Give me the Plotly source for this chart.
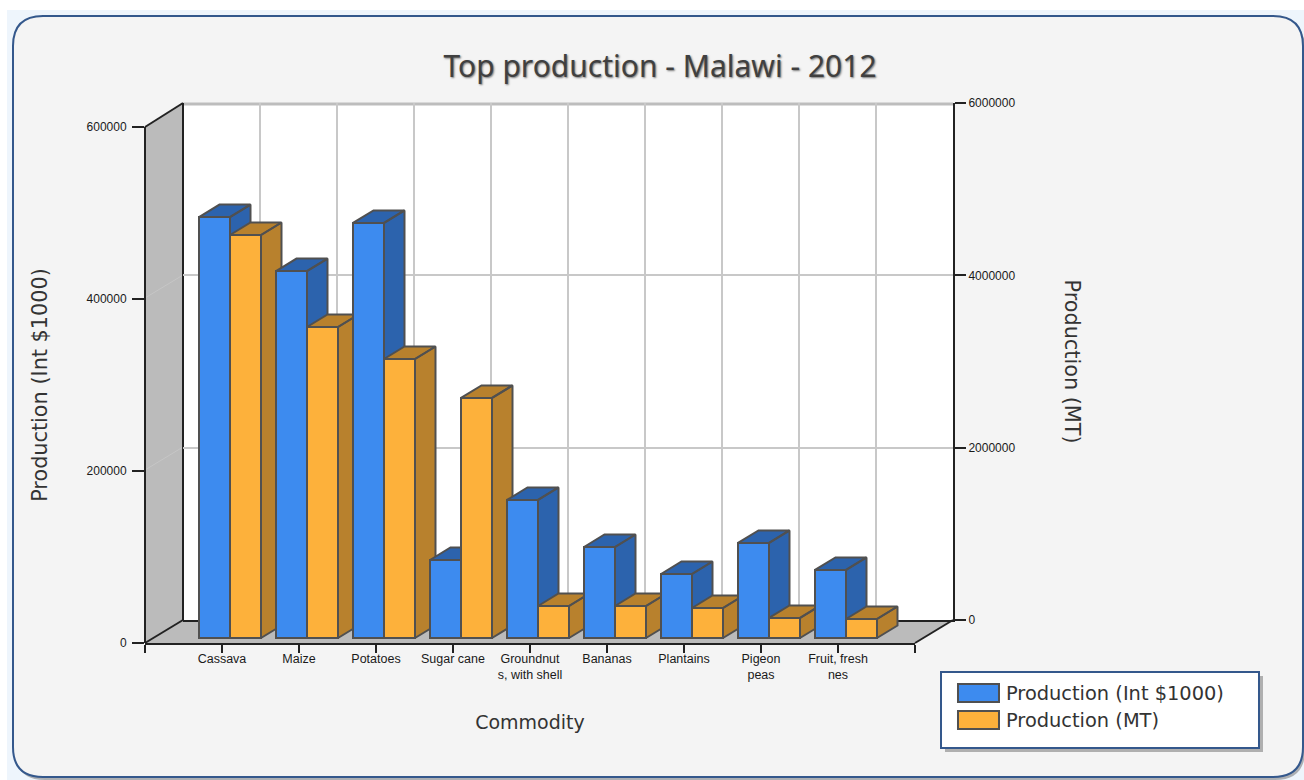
import plotly.graph_objects as go

# ---- data ----
categories = ["Cassava", "Maize", "Potatoes", "Sugar cane", "Groundnut<br>s, with shell",
              "Bananas", "Plantains", "Pigeon<br>peas", "Fruit, fresh<br>nes"]
production_int = [489500, 426700, 482600, 90700, 160500, 105800, 74400, 110500, 79100]
production_mt = [4686000, 3616000, 3244000, 2791000, 372000, 372000, 349000, 233000, 221000]
left_ticks = [0, 200000, 400000, 600000]
right_ticks = [0, 2000000, 4000000, 6000000]
series_names = ["Production (Int $1000)", "Production (MT)"]

# ---- layout constants (pixels) ----
W, H = 1304, 780
FL, FR, FT, FB = 145, 915, 127, 643      # front plane
BL, BR, BT, BB = 183, 953, 103, 620      # back wall
SLOT = (FR - FL) / 10
UNIT = 600000 / (FB - FT)                # left-axis units per pixel
BAR_W, LIFT_PX, OFF_PX = 31 / SLOT, 5, -23 / SLOT
DX, DY = 20.5 / SLOT, 12.5 * UNIT
LIFT = LIFT_PX * UNIT

BLUE, BLUE_D = "#3d8bef", "#2c63ad"
ORANGE, ORANGE_D = "#fdb13b", "#b8812d"
EDGE = "#505050"
BLACK = "#222222"
X_TICK_FONT = dict(family="Liberation Sans", size=12.5, color="#1a1a1a")
Y_TICK_FONT = dict(family="Liberation Sans", size=12, color="#1a1a1a")
LEGEND_FONT = dict(family="DejaVu Sans", size=19.4, color="#333333")
X_TITLE_FONT = dict(family="DejaVu Sans", size=19, color="#333333")
Y_TITLE_FONT = dict(family="DejaVu Sans", size=20.8, color="#333333")


def px(x):
    return x / W


def py(y):
    return 1 - y / H


def poly(points, fill=None, line=None, width=1, layer="below"):
    path = "M " + " L ".join(f"{px(x):.5f},{py(y):.5f}" for x, y in points) + " Z"
    return dict(type="path", xref="paper", yref="paper", path=path, fillcolor=fill or "rgba(0,0,0,0)",
                line=dict(color=line or "rgba(0,0,0,0)", width=width), layer=layer)


def seg(x0, y0, x1, y1, color=BLACK, width=2, layer="below"):
    return dict(type="line", xref="paper", yref="paper", x0=px(x0), y0=py(y0), x1=px(x1), y1=py(y1),
                line=dict(color=color, width=width), layer=layer)


def rounded(x0, y0, x1, y1, r, fill, line, width):
    def a(x, y):
        return f"{px(x):.5f},{py(y):.5f}"
    path = (f"M {a(x0 + r, y0)} L {a(x1 - r, y0)} Q {a(x1, y0)} {a(x1, y0 + r)} "
            f"L {a(x1, y1 - r)} Q {a(x1, y1)} {a(x1 - r, y1)} L {a(x0 + r, y1)} "
            f"Q {a(x0, y1)} {a(x0, y1 - r)} L {a(x0, y0 + r)} Q {a(x0, y0)} {a(x0 + r, y0)} Z")
    return dict(type="path", xref="paper", yref="paper", path=path, fillcolor=fill,
                line=dict(color=line, width=width), layer="below")


fig = go.Figure()
xs = list(range(1, len(categories) + 1))

# invisible carrier so the back-wall axes and their grid are drawn
fig.add_trace(go.Scatter(x=xs[:1], y=right_ticks[:1], xaxis="x", yaxis="y", mode="markers",
                         marker=dict(opacity=0), hoverinfo="skip", showlegend=False))

# side and top faces, painted left to right
for i, x in enumerate(xs):
    for k, (val, col) in enumerate(((production_int[i], BLUE_D), (production_mt[i] / 10, ORANGE_D))):
        L = x + OFF_PX + k * BAR_W
        R = L + BAR_W
        T = LIFT + val
        B = LIFT
        fx = [R, R + DX, R + DX, R, R, None, L, L + DX, R + DX, R, L]
        fy = [B, B + DY, T + DY, T, B, None, T, T + DY, T + DY, T, T]
        fig.add_trace(go.Scatter(x=fx, y=fy, xaxis="x2", yaxis="y2", mode="lines", fill="toself",
                                 fillcolor=col, line=dict(color=EDGE, width=2),
                                 hoverinfo="skip", showlegend=False))

# front faces
fig.add_trace(go.Bar(x=xs, y=production_int, base=LIFT, name=series_names[0], width=BAR_W, offset=OFF_PX,
                     marker=dict(color=BLUE, line=dict(color=EDGE, width=2)),
                     xaxis="x2", yaxis="y3", showlegend=False))
fig.add_trace(go.Bar(x=xs, y=production_mt, base=LIFT * 10, name=series_names[1], width=BAR_W,
                     offset=OFF_PX + BAR_W,
                     marker=dict(color=ORANGE, line=dict(color=EDGE, width=2)),
                     xaxis="x2", yaxis="y4", showlegend=False))

shapes = [
    poly([(7, 10), (W, 10), (W, H), (7, H)], fill="#eef5fc"),
    rounded(15, 19, 1305, 780, 30, "rgba(90,90,90,0.45)", "rgba(0,0,0,0)", 0),
    rounded(13, 16, 1303, 777, 30, "#f4f4f4", "#34588c", 2),
    poly([(BL, BT), (BR, BT), (BR, BB), (BL, BB)], fill="#ffffff"),
    seg(BL, 104, BR, 104, "#bdbdbd", 3),
    poly([(FL, FT), (BL, BT), (BL, BB), (FL, FB)], fill="#bbbbbb"),
    poly([(FL, FB), (BL, BB), (BR, BB), (FR, FB)], fill="#bbbbbb"),
    seg(FL, 470, BL, 447, "#c6c6c6", 1),
    seg(FL, 298, BL, 275, "#c6c6c6", 1),
    seg(FL, FT, FL, FB),
    seg(BL, BT, BL, BB),
    seg(FL, FT, BL, BT),
    seg(FL, FB, BL, BB),
    seg(FR, FB, BR, BB),
    # legend box
    poly([(945, 676), (1263, 676), (1263, 752), (945, 752)], fill="rgba(90,90,90,0.45)"),
    poly([(941, 672), (1259, 672), (1259, 748), (941, 748)], fill="#ffffff", line="#34588c", width=2),
    poly([(958, 684), (999, 684), (999, 702), (958, 702)], fill=BLUE, line=EDGE, width=2),
    poly([(958, 711), (999, 711), (999, 729), (958, 729)], fill=ORANGE, line=EDGE, width=2),
]

annotations = [
    dict(text=series_names[0], x=px(1004), y=py(693), xref="paper", yref="paper", xanchor="left",
         yanchor="middle", showarrow=False, font=LEGEND_FONT),
    dict(text=series_names[1], x=px(1004), y=py(720), xref="paper", yref="paper", xanchor="left",
         yanchor="middle", showarrow=False, font=LEGEND_FONT),
    dict(text="Production (MT)", x=px(1072), y=py(361.5), xref="paper", yref="paper", xanchor="center",
         yanchor="middle", textangle=90, showarrow=False, font=Y_TITLE_FONT),
]

fig.update_layout(
    width=W, height=H, autosize=False,
    margin=dict(l=0, r=0, t=0, b=0, pad=0, autoexpand=False),
    paper_bgcolor="#ffffff", plot_bgcolor="rgba(0,0,0,0)",
    barmode="overlay",
    title=dict(text="Top production - Malawi - 2012", x=660 / W, y=py(66), xanchor="center", yanchor="middle",
               xref="container", yref="container",
               font=dict(family="Noto Sans", size=30, color="#404040", shadow="1px 1px 2px #777777")),
    shapes=shapes, annotations=annotations,
    # back wall
    xaxis=dict(domain=[px(BL), px(BR)], range=[0, 10], tickmode="array", tickvals=list(range(11)),
               showticklabels=False, ticks="", showgrid=True, gridcolor="#c8c8c8", gridwidth=2, zeroline=False,
               showline=True, linecolor=BLACK, linewidth=2, anchor="y", fixedrange=True),
    yaxis=dict(domain=[py(BB), py(BT)], range=[0, 6000000], side="right", tickmode="array", tickvals=right_ticks,
               ticktext=[str(v) for v in right_ticks], ticks="outside", ticklen=11, tickwidth=2, tickcolor=BLACK,
               tickfont=Y_TICK_FONT, showgrid=True, gridcolor="#c8c8c8", gridwidth=2, zeroline=False,
               showline=True, linecolor=BLACK, linewidth=2, anchor="x", fixedrange=True),
    # front plane
    xaxis2=dict(domain=[px(FL), px(FR)], range=[0, 10], tickmode="array", tickvals=list(range(11)),
                ticktext=[""] + categories + [""], ticks="outside", ticklen=8, tickwidth=2, tickcolor=BLACK,
                ticklabelstandoff=-5, tickfont=X_TICK_FONT, tickangle=0, showgrid=False, zeroline=False,
                showline=True, linecolor=BLACK, linewidth=2, anchor="y2", fixedrange=True,
                title=dict(text="Commodity", font=X_TITLE_FONT, standoff=34)),
    yaxis2=dict(domain=[py(FB), py(FT)], range=[0, 600000], tickmode="array", tickvals=left_ticks,
                ticktext=[str(v) for v in left_ticks], ticks="outside", ticklen=12, tickwidth=2, tickcolor=BLACK,
                ticklabelstandoff=3, tickfont=Y_TICK_FONT, showgrid=False, zeroline=False, showline=False,
                anchor="x2", fixedrange=True,
                title=dict(text="Production (Int $1000)", font=Y_TITLE_FONT, standoff=33)),
    yaxis3=dict(range=[0, 600000], overlaying="y2", anchor="x2", visible=False, fixedrange=True),
    yaxis4=dict(range=[0, 6000000], overlaying="y2", anchor="x2", visible=False, fixedrange=True),
)

fig.write_html("out.html", config=dict(displayModeBar=False),
               post_script="document.body.style.margin='0';document.body.style.overflow='hidden';")
